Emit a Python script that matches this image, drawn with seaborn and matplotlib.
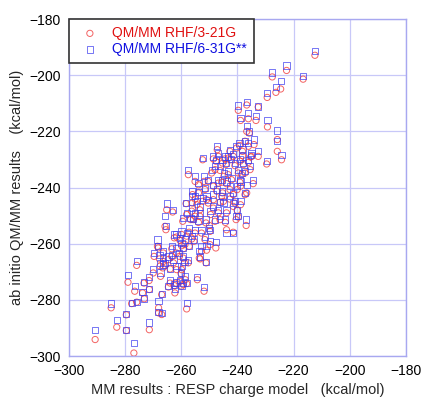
import numpy as np
import matplotlib
matplotlib.use("Agg")
import matplotlib.pyplot as plt
import seaborn as sns

# MM (RESP charge model) energies, kcal/mol
mm_resp = [
    -290.7, -285.0, -283.0, -279.6, -279.6, -276.9, -277.7, -279.0, -276.6, -275.9,
    -275.9, -273.8, -273.3, -273.2, -271.4, -271.4, -271.5, -270.0, -268.5, -268.1,
    -268.1, -267.0, -267.4, -267.0, -269.7, -268.2, -266.4, -265.8, -264.6, -265.8,
    -265.2, -263.1, -265.5, -262.8, -262.3, -261.9, -261.7, -259.9, -258.9, -258.6,
    -258.1, -258.1, -260.5, -261.7, -259.9, -259.3, -260.7, -263.4, -264.0, -259.5,
    -258.3, -257.5, -257.2, -256.3, -255.7, -256.1, -254.3, -253.6, -252.8, -251.9,
    -251.2, -252.4, -251.9, -251.0, -251.2, -250.0, -249.8, -249.6, -248.6, -248.0,
    -247.7, -247.2, -246.8, -246.2, -246.2, -245.6, -244.8, -243.9, -243.9, -244.3,
    -242.7, -242.4, -241.5, -240.9, -240.1, -240.5, -239.7, -238.9, -238.5, -239.3,
    -238.2, -238.9, -237.3, -236.7, -236.9, -236.7, -236.1, -235.8, -235.5, -235.0,
    -234.4, -234.1, -232.6, -233.4, -232.6, -236.7, -229.3, -229.6, -225.8, -225.8,
    -224.3, -229.4, -226.3, -224.6, -227.6, -222.5, -216.6, -212.4, -255.1, -253.9,
    -256.0, -254.5, -253.4, -255.1, -256.7, -253.9, -252.8, -258.1, -258.7, -257.2,
    -255.5, -251.6, -250.4, -248.6, -247.4, -248.6, -246.8, -245.6, -246.2, -249.2,
    -250.4, -251.6, -244.1, -243.3, -242.7, -242.1, -241.5, -240.9, -240.3, -241.5,
    -243.3, -244.5, -245.3, -247.7, -239.1, -237.9, -237.3, -239.7, -240.1, -241.5,
    -242.7, -245.0, -245.3, -246.8, -236.1, -235.3, -238.2, -237.3, -259.9, -260.5,
    -259.3, -255.1, -258.1, -256.3, -253.9, -252.4, -262.5, -263.4, -264.6, -266.4,
    -267.8, -266.6, -267.6, -264.0, -261.7, -260.1, -259.3, -257.5, -262.5, -259.9,
    -251.0, -253.3, -249.8, -248.0, -243.9, -239.1, -236.1, -239.7, -238.9, -248.6,
    -255.1, -253.4,
]

# ab initio QM/MM, RHF/3-21G
qm_321g = [
    -294.1, -282.8, -289.7, -285.3, -290.9, -298.9, -281.3, -273.7, -276.9, -267.7,
    -280.8, -277.5, -274.0, -279.6, -290.6, -276.3, -273.1, -270.4, -260.9, -282.8,
    -284.6, -285.2, -271.6, -278.1, -264.5, -261.5, -263.3, -267.8, -275.4, -253.8,
    -247.9, -248.7, -255.0, -266.8, -277.5, -274.0, -257.6, -269.2, -266.8, -272.8,
    -283.2, -274.2, -273.4, -263.3, -260.7, -265.1, -264.5, -264.5, -269.0, -252.0,
    -245.7, -235.4, -255.9, -258.3, -251.4, -245.5, -272.8, -265.1, -262.7, -276.9,
    -266.8, -230.1, -237.8, -244.3, -252.6, -253.5, -260.3, -249.6, -239.5, -233.6,
    -261.5, -226.5, -228.9, -245.2, -251.4, -243.1, -236.0, -238.6, -255.0, -252.4,
    -227.1, -230.1, -255.9, -245.5, -248.1, -251.4, -212.5, -216.1, -235.4, -225.0,
    -227.1, -239.5, -223.5, -220.0, -253.5, -241.9, -215.5, -220.6, -233.6, -228.9,
    -238.6, -224.7, -228.9, -216.1, -211.3, -210.6, -218.4, -231.6, -222.9, -227.1,
    -230.1, -207.9, -206.1, -204.9, -200.6, -198.3, -201.4, -192.9, -237.8, -239.0,
    -242.5, -246.1, -247.9, -250.2, -251.4, -252.4, -256.2, -257.3, -260.3, -260.9,
    -259.1, -258.5, -245.5, -244.3, -241.3, -247.3, -249.0, -238.1, -233.9, -234.8,
    -237.8, -240.7, -231.8, -235.4, -240.7, -237.2, -242.5, -232.2, -225.9, -228.9,
    -229.5, -229.8, -231.3, -230.6, -230.6, -231.8, -234.8, -234.8, -240.7, -246.7,
    -244.1, -244.9, -241.9, -238.4, -225.3, -229.1, -228.6, -242.5, -256.7, -258.8,
    -261.8, -256.2, -249.6, -248.4, -241.9, -244.9, -257.9, -261.8, -265.6, -266.3,
    -265.4, -268.6, -268.0, -274.0, -269.2, -270.6, -274.5, -266.8, -274.9, -275.1,
    -262.3, -265.4, -255.6, -252.0, -249.0, -238.1, -231.0, -250.5, -246.1, -229.8,
    -244.1, -250.2,
]

# ab initio QM/MM, RHF/6-31G**
qm_631g = [
    -290.6, -281.3, -287.2, -285.0, -290.7, -295.3, -281.1, -271.2, -274.9, -266.2,
    -280.6, -277.3, -273.5, -279.5, -288.0, -276.1, -271.8, -269.0, -258.5, -280.5,
    -284.2, -284.6, -270.2, -277.9, -263.3, -260.9, -262.7, -266.8, -275.1, -250.2,
    -245.7, -247.9, -253.8, -265.6, -276.1, -273.8, -256.5, -268.0, -266.6, -271.6,
    -281.1, -274.0, -272.8, -261.6, -259.7, -264.5, -263.3, -263.9, -268.8, -250.8,
    -245.5, -233.6, -254.4, -257.3, -251.2, -243.1, -271.8, -262.7, -260.9, -275.4,
    -266.5, -229.4, -236.0, -243.1, -251.4, -254.4, -259.1, -248.4, -239.0, -232.2,
    -259.5, -225.3, -227.7, -245.0, -250.2, -241.4, -234.8, -237.8, -256.2, -251.4,
    -226.5, -229.8, -256.2, -244.9, -247.9, -250.2, -210.8, -215.2, -234.8, -224.1,
    -226.3, -237.8, -223.3, -218.2, -251.4, -239.0, -213.5, -220.0, -232.4, -227.7,
    -237.2, -222.9, -227.1, -214.6, -211.1, -209.4, -215.8, -230.4, -219.7, -223.5,
    -228.3, -206.3, -204.2, -202.0, -199.0, -196.5, -200.4, -191.3, -236.0, -238.4,
    -241.3, -244.9, -246.7, -249.0, -250.8, -252.0, -255.0, -256.2, -258.5, -260.7,
    -258.5, -257.6, -244.3, -242.5, -240.7, -246.7, -247.9, -237.2, -232.4, -233.6,
    -237.2, -240.2, -231.3, -234.2, -239.5, -236.6, -242.0, -231.3, -225.3, -228.0,
    -228.9, -228.9, -230.1, -230.1, -229.8, -231.3, -234.2, -233.6, -239.5, -245.5,
    -243.1, -245.5, -243.1, -237.2, -224.1, -228.3, -228.9, -241.9, -255.6, -258.0,
    -261.5, -255.0, -249.0, -247.3, -241.6, -243.7, -256.7, -260.9, -264.5, -265.1,
    -263.9, -267.4, -266.8, -272.8, -268.0, -270.4, -274.0, -265.9, -274.5, -274.9,
    -260.9, -264.5, -255.0, -251.4, -247.9, -237.2, -230.1, -250.0, -244.9, -228.9,
    -243.1, -249.0,
]

sns.set_style("white")
plt.rcParams["font.family"] = ["Liberation Sans", "DejaVu Sans"]

fig = plt.figure(figsize=(4.21, 3.97), dpi=100)
ax = fig.add_axes([0.164, 0.103, 0.80, 0.849])

red = "#f03c3c"
blue = "#3c3cf0"

sns.scatterplot(x=mm_resp, y=qm_321g, marker="o", s=20, facecolors="none",
                edgecolor=red, linewidth=0.7, alpha=0.8,
                label="QM/MM RHF/3-21G", ax=ax)
sns.scatterplot(x=mm_resp, y=qm_631g, marker="s", s=20, facecolors="none",
                edgecolor=blue, linewidth=0.7, alpha=0.7,
                label="QM/MM RHF/6-31G**", ax=ax)

ax.set_xlim(-300, -180)
ax.set_ylim(-300, -180)
ax.set_xticks(np.arange(-300, -179, 20))
ax.set_yticks(np.arange(-300, -179, 20))
ax.grid(True, color="#c8c8f8", linewidth=0.9)
ax.set_axisbelow(True)
for sp in ax.spines.values():
    sp.set_color("#a8a8f0")
    sp.set_linewidth(1.0)
ax.tick_params(length=0, labelsize=10, pad=6, colors="black")

ax.set_xlabel("MM results : RESP charge model   (kcal/mol)", fontsize=10.5, labelpad=3)
ax.set_ylabel("ab initio QM/MM results    (kcal/mol)", fontsize=10.5, labelpad=4)

leg = ax.legend(loc="upper left", borderaxespad=0, fancybox=False, framealpha=1,
                edgecolor="#333333", fontsize=10, handlelength=2.0,
                handletextpad=0.6, borderpad=0.5, labelspacing=0.15)
leg.get_frame().set_linewidth(1.2)
for txt, col in zip(leg.get_texts(), ["#e01010", "#1010e0"]):
    txt.set_color(col)

fig.savefig("out.png", dpi=100)
